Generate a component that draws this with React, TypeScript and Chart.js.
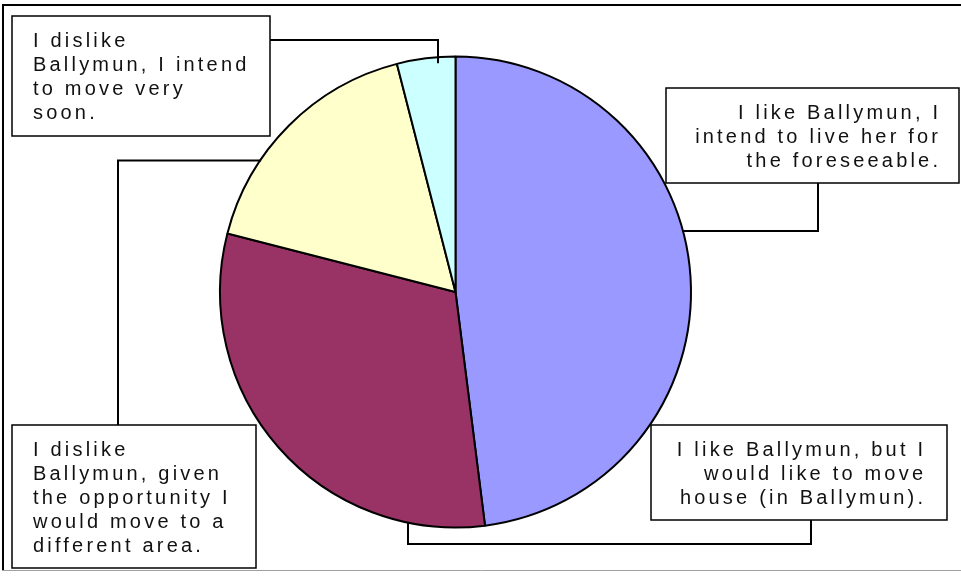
import React, { useEffect, useRef } from "react";
import { Chart, registerables } from "chart.js";

Chart.register(...registerables);

const categories = [
  "I like Ballymun, I intend to live her for the foreseeable.",
  "I like Ballymun, but I would like to move house (in Ballymun).",
  "I dislike Ballymun, given the opportunity I would move to a different area.",
  "I dislike Ballymun, I intend to move very soon.",
];
const values = [48, 31, 17, 4];
const sliceColors = ["#9999FF", "#993366", "#FFFFCC", "#CCFFFF"];
const labelLines = [
  ["I like Ballymun, I", "intend to live her for", "the foreseeable."],
  ["I like Ballymun, but I", "would like to move", "house (in Ballymun)."],
  ["I dislike", "Ballymun, given", "the opportunity I", "would move to a", "different area."],
  ["I dislike", "Ballymun, I intend", "to move very", "soon."],
];

// layout of the label boxes and leader lines (positions only)
type Box = { x: number; y: number; w: number; h: number; align: "left" | "right"; tx: number };
const boxes: Box[] = [
  { x: 666, y: 88, w: 293, h: 95, align: "right", tx: 938 },
  { x: 651, y: 425, w: 296, h: 95, align: "right", tx: 923 },
  { x: 12, y: 425, w: 244, h: 143, align: "left", tx: 33 },
  { x: 12, y: 16, w: 258, h: 120, align: "left", tx: 33 },
];
const leaders = [
  { pts: [[818, 183], [818, 231]], end: "h", side: 1, inset: 0 },
  { pts: [[811, 520], [811, 544], [408, 544]], end: "v", side: 1, inset: 0 },
  { pts: [[118, 425], [118, 160.5]], end: "h", side: -1, inset: 1 },
  { pts: [[270, 40], [438, 40]], end: "v", side: -1, inset: 6 },
];

const overlay = {
  id: "overlay",
  afterDraw(chart: any) {
    const ctx = chart.ctx as CanvasRenderingContext2D;
    const arc = chart.getDatasetMeta(0).data[0] as any;
    const cx = arc.x, cy = arc.y, r = arc.outerRadius;
    ctx.save();
    // frame
    ctx.strokeStyle = "#000";
    ctx.lineWidth = 2;
    ctx.beginPath();
    ctx.moveTo(3, 570);
    ctx.lineTo(3, 5);
    ctx.lineTo(961, 5);
    ctx.stroke();
    ctx.strokeStyle = "#a0a0a0";
    ctx.lineWidth = 1;
    ctx.beginPath();
    ctx.moveTo(2, 570.5);
    ctx.lineTo(961, 570.5);
    ctx.stroke();

    // leaders
    ctx.strokeStyle = "#000";
    ctx.lineWidth = 2;
    leaders.forEach((ld) => {
      ctx.beginPath();
      ctx.moveTo(ld.pts[0][0], ld.pts[0][1]);
      for (let i = 1; i < ld.pts.length; i++) ctx.lineTo(ld.pts[i][0], ld.pts[i][1]);
      const last = ld.pts[ld.pts.length - 1];
      if (ld.end === "h") {
        const dy = last[1] - cy;
        const ex = cx + ld.side * (Math.sqrt(Math.max(r * r - dy * dy, 0)) - ld.inset);
        ctx.lineTo(ex, last[1]);
      } else {
        const dx = last[0] - cx;
        const ey = cy + ld.side * (Math.sqrt(Math.max(r * r - dx * dx, 0)) - ld.inset);
        ctx.lineTo(last[0], ey);
      }
      ctx.stroke();
    });

    // boxes
    const spacing = 3.2;
    ctx.font = "20px 'Liberation Sans', Arial, sans-serif";
    (ctx as any).letterSpacing = spacing + "px";
    ctx.textBaseline = "alphabetic";
    boxes.forEach((b, i) => {
      ctx.fillStyle = "#fff";
      ctx.fillRect(b.x, b.y, b.w, b.h);
      ctx.strokeStyle = "#000";
      ctx.lineWidth = 1.5;
      ctx.strokeRect(b.x, b.y, b.w, b.h);
      ctx.fillStyle = "#111";
      ctx.textAlign = b.align;
      labelLines[i].forEach((line, j) => {
        const tx = b.align === "right" ? b.tx + spacing : b.tx;
        ctx.fillText(line, tx, b.y + 30.5 + j * 24);
      });
    });
    ctx.restore();
  },
};

export default function App() {
  const ref = useRef<HTMLCanvasElement>(null);
  useEffect(() => {
    const chart = new Chart(ref.current!, {
      type: "pie",
      data: {
        labels: categories,
        datasets: [
          {
            data: values,
            backgroundColor: sliceColors,
            borderColor: "#000",
            borderWidth: 2,
          },
        ],
      },
      options: {
        responsive: false,
        animation: false,
        layout: { padding: { left: 219, right: 269, top: 55.5, bottom: 52.5 } },
        plugins: { legend: { display: false }, tooltip: { enabled: false } },
      },
      plugins: [overlay],
    });
    return () => chart.destroy();
  }, []);
  return (
    <div style={{ position: "fixed", left: 0, top: 0, width: 961, height: 581, background: "#fff" }}>
      <canvas ref={ref} width={961} height={581} style={{ width: 961, height: 581, display: "block" }} />
    </div>
  );
}
